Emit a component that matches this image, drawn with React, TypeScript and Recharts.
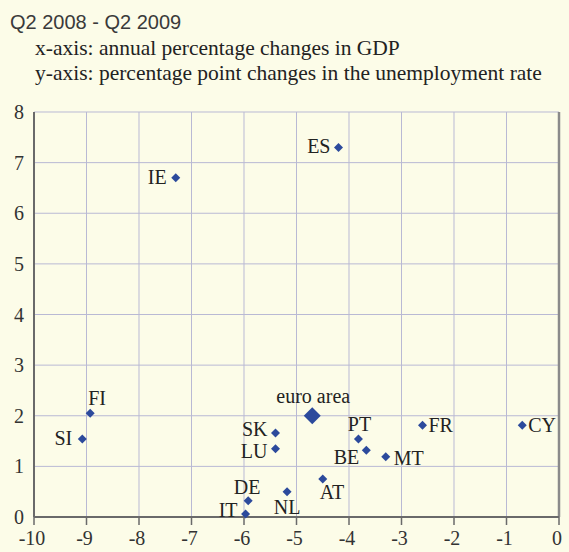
import React from "react";
import {
  ScatterChart,
  Scatter,
  XAxis,
  YAxis,
  CartesianGrid,
  ReferenceLine,
} from "recharts";

// country codes, annual % change in GDP, pp change in unemployment rate
const COUNTRIES = ["ES", "IE", "FI", "SI", "SK", "LU", "PT", "BE", "MT", "AT", "NL", "DE", "IT", "FR", "CY"];
const GDP_CHANGE = [-4.2, -7.3, -8.93, -9.08, -5.4, -5.4, -3.82, -3.67, -3.3, -4.5, -5.18, -5.92, -5.97, -2.6, -0.7];
const UNEMP_CHANGE = [7.3, 6.7, 2.05, 1.54, 1.66, 1.35, 1.54, 1.32, 1.19, 0.75, 0.5, 0.32, 0.06, 1.81, 1.81];

const EA_NAMES = ["euro area"];
const EA_GDP = [-4.7];
const EA_UNEMP = [2.0];

const X_TICKS = [-10, -9, -8, -7, -6, -5, -4, -3, -2, -1, 0];
const Y_TICKS = [0, 1, 2, 3, 4, 5, 6, 7, 8];

const TITLE = "Q2 2008 - Q2 2009";
const SUBTITLES = [
  "x-axis: annual percentage changes in GDP",
  "y-axis: percentage point changes in the unemployment rate",
];

const countryData = COUNTRIES.map((name, i) => ({ name, x: GDP_CHANGE[i], y: UNEMP_CHANGE[i] }));
const euroData = EA_NAMES.map((name, i) => ({ name, x: EA_GDP[i], y: EA_UNEMP[i] }));

const BG = "#fcfce8";
const DOT = "#2c4a9c";
const SERIF = "'Liberation Serif', 'Times New Roman', serif";

// where each label sits relative to its marker: dx, dy, anchor
const labelPlace: Record<string, [number, number, "start" | "middle" | "end"]> = {
  ES: [-8, 6, "end"],
  IE: [-9, 6, "end"],
  FI: [-2, -8, "start"],
  SI: [-10, 6, "end"],
  SK: [-8, 3, "end"],
  LU: [-8, 9, "end"],
  PT: [1, -8, "middle"],
  BE: [-7, 14, "end"],
  MT: [8, 8, "start"],
  AT: [-3, 20, "start"],
  NL: [0, 22, "middle"],
  DE: [-1, -7, "middle"],
  IT: [-8, 3, "end"],
  FR: [6, 7, "start"],
  CY: [6, 7, "start"],
  "euro area": [1, -13, "middle"],
};

const makeDiamond = (half: number) => (props: any) => {
  const { cx, cy, payload } = props;
  if (cx == null || cy == null) return <g />;
  const place = labelPlace[payload.name] || [8, 6, "start"];
  return (
    <g>
      <polygon
        points={`${cx},${cy - half} ${cx + half},${cy} ${cx},${cy + half} ${cx - half},${cy}`}
        fill={DOT}
      />
      <text
        x={cx + place[0]}
        y={cy + place[1]}
        textAnchor={place[2]}
        fontFamily={SERIF}
        fontSize={20}
        fill="#222"
      >
        {payload.name}
      </text>
    </g>
  );
};

const XTick = (props: any) => {
  const { x, y, payload } = props;
  return (
    <text x={x - 2} y={y + 15} textAnchor="middle" fontFamily={SERIF} fontSize={20} fill="#333">
      {payload.value}
    </text>
  );
};

const YTick = (props: any) => {
  const { x, y, payload } = props;
  return (
    <text x={x} y={y + 7} textAnchor="end" fontFamily={SERIF} fontSize={20} fill="#333">
      {payload.value}
    </text>
  );
};

export default function App() {
  return (
    <div style={{ position: "absolute", left: 0, top: 0, width: 569, height: 552, background: BG }}>
      <svg width={569} height={552} style={{ position: "absolute", left: 0, top: 0 }}>
        <text x={10} y={29} fontFamily="'Liberation Sans', Arial, sans-serif" fontSize={20} fill="#3a3a3a">
          {TITLE}
        </text>
        {SUBTITLES.map((s, i) => (
          <text key={s} x={35} y={55 + i * 25} fontFamily={SERIF} fontSize={21.5} fill="#222">
            {s}
          </text>
        ))}
      </svg>
      <div style={{ position: "absolute", left: 0, top: 0 }}>
        <ScatterChart width={569} height={552} margin={{ top: 112, right: 10, left: 0, bottom: 0 }}>
          <CartesianGrid stroke="#b9b9d4" strokeWidth={1} />
          <XAxis
            type="number"
            dataKey="x"
            domain={[-10, 0]}
            ticks={X_TICKS}
            interval={0}
            height={35}
            tickSize={8}
            tickMargin={5}
            stroke="#6a6a6a"
            axisLine={{ stroke: "#6a6a6a", strokeWidth: 2 }}
            tickLine={{ stroke: "#6a6a6a", strokeWidth: 1.5 }}
            tick={<XTick />}
          />
          <YAxis
            type="number"
            dataKey="y"
            domain={[0, 8]}
            ticks={Y_TICKS}
            interval={0}
            width={34}
            tickSize={0}
            tickMargin={10}
            tickLine={false}
            axisLine={{ stroke: "#6a6a6a", strokeWidth: 2 }}
            tick={<YTick />}
          />
          <ReferenceLine x={0} stroke="#8a8a8a" strokeWidth={2.5} />
          <Scatter data={countryData} shape={makeDiamond(4.5)} isAnimationActive={false} />
          <Scatter data={euroData} shape={makeDiamond(8.5)} isAnimationActive={false} />
        </ScatterChart>
      </div>
    </div>
  );
}
